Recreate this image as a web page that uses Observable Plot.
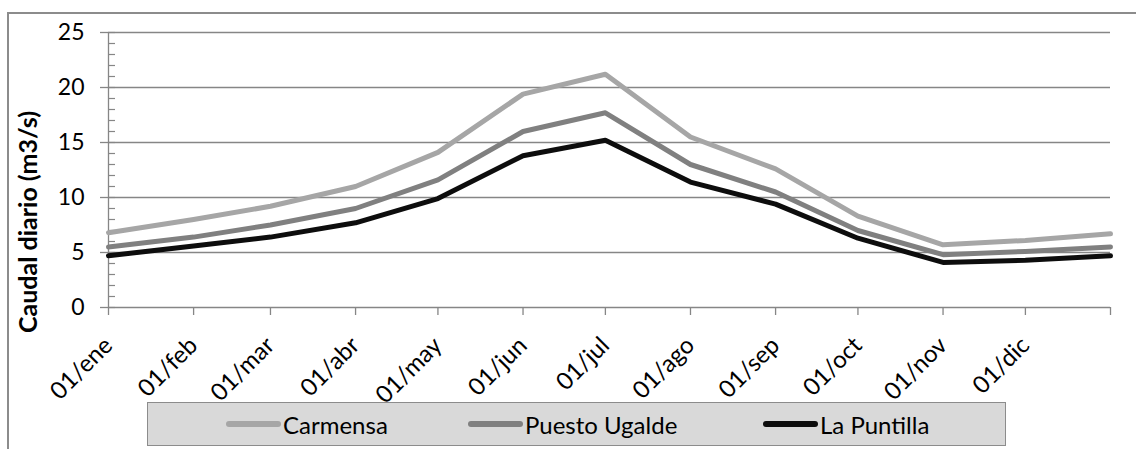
<!DOCTYPE html>
<html><head><meta charset="utf-8">
<script src="https://cdn.jsdelivr.net/npm/d3@7"></script>
<script src="https://cdn.jsdelivr.net/npm/@observablehq/plot@0.6"></script>
<style>
body{margin:0;background:#fff;font-family:Lato,sans-serif;}
#wrap{position:relative;width:1136px;height:449px;overflow:hidden;background:#fff;}
#frame{position:absolute;left:7px;top:12px;width:1300px;height:600px;border-left:2px solid #8c8c8c;border-top:2px solid #8c8c8c;}
#chart{position:absolute;left:0;top:0;}
#legend{position:absolute;left:147px;top:402px;width:857px;height:42px;background:#d9d9d9;border:1px solid #8c8c8c;}
.item{position:absolute;top:0;height:42px;display:flex;align-items:center;font-size:24px;color:#000;white-space:nowrap;}
.sw{display:inline-block;width:55px;height:6px;border-radius:3px;margin-right:2px;}
</style></head><body>
<div id="wrap"><div id="frame"></div><div id="chart"></div><div id="legend"></div></div>
<script>
const monthLabels = ["01/ene","01/feb","01/mar","01/abr","01/may","01/jun","01/jul","01/ago","01/sep","01/oct","01/nov","01/dic",""];
const monthDays = [0,31,59,90,120,151,181,212,243,273,304,334,365];
const seriesNames = ["Carmensa","Puesto Ugalde","La Puntilla"];
const seriesColors = ["#a6a6a6","#808080","#0d0d0d"];
const carmensa = [6.8, 8.0, 9.2, 11.0, 14.1, 19.4, 21.2, 15.5, 12.6, 8.3, 5.7, 6.1, 6.7];
const puestoUgalde = [5.5, 6.4, 7.5, 9.0, 11.6, 16.0, 17.7, 13.0, 10.5, 7.0, 4.8, 5.1, 5.5];
const laPuntilla = [4.7, 5.6, 6.4, 7.7, 9.9, 13.8, 15.2, 11.4, 9.4, 6.3, 4.1, 4.3, 4.7];
const yTicks = [0,5,10,15,20,25];
const yTitle = "Caudal diario (m3/s)";

const seriesValues = [carmensa, puestoUgalde, laPuntilla];
const rows = [];
seriesNames.forEach((s, i) => seriesValues[i].forEach((v, j) => rows.push({series: s, day: monthDays[j], value: v})));

const grey = "#868686";
const plot = Plot.plot({
  width: 1136, height: 449,
  marginLeft: 108, marginRight: 26, marginTop: 32, marginBottom: 142,
  style: {fontFamily: "Lato, sans-serif", fontSize: "23px", color: "#000", background: "transparent"},
  x: {type: "linear", domain: [0, 365]},
  y: {domain: [0, 25]},
  color: {domain: seriesNames, range: seriesColors},
  marks: [
    Plot.gridY(yTicks.slice(1), {stroke: grey, strokeOpacity: 1, strokeWidth: 1.3}),
    Plot.axisY(d3.range(0, 26), {tickSize: -7, tickFormat: () => "", label: null, stroke: grey, strokeWidth: 1.2}),
    Plot.axisY(yTicks, {tickSize: 8, tickPadding: 16, label: null, stroke: grey, strokeWidth: 1.3, fill: "#000", fontSize: 23}),
    Plot.ruleX([0], {stroke: grey, strokeWidth: 1.3}),
    Plot.ruleY([0], {stroke: grey, strokeWidth: 1.3}),
    Plot.axisX(monthDays, {tickSize: 8, tickPadding: 26, tickRotate: -45, tickFormat: (d, i) => monthLabels[i], label: null, stroke: grey, strokeWidth: 1.3, fill: "#000", fontSize: 24}),
    Plot.line(rows, {x: "day", y: "value", z: "series", stroke: "series", strokeWidth: 5, strokeLinejoin: "round", strokeLinecap: "round"}),
    Plot.text([yTitle], {frameAnchor: "left", rotate: -90, dx: -80, dy: 52, textAnchor: "middle", fontWeight: "bold", fontSize: 25, fill: "#000"})
  ]
});
document.getElementById("chart").appendChild(plot);

const legendX = [78, 320, 615];
const legend = document.getElementById("legend");
seriesNames.forEach((s, i) => {
  const it = document.createElement("div");
  it.className = "item";
  it.style.left = legendX[i] + "px";
  const sw = document.createElement("span");
  sw.className = "sw";
  sw.style.background = seriesColors[i];
  it.appendChild(sw);
  it.appendChild(document.createTextNode(s));
  legend.appendChild(it);
});
</script>
</body></html>
